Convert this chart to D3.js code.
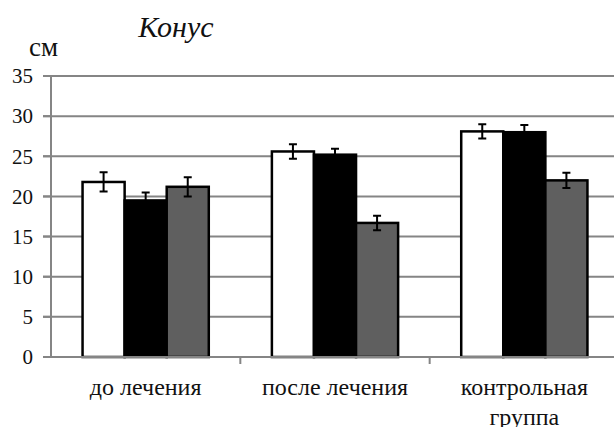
<!DOCTYPE html>
<html>
    <head>
        <script src="https://d3js.org/d3.v7.min.js"></script>
    </head>
    <body style="margin:0;padding:0;background:#ffffff">
        <svg id="fig" width="614" height="427">
            <text x="176" y="37" text-anchor="middle" font-family="serif" font-style="italic" font-size="30" fill="#111111">Конус</text>
            <text x="29" y="56" font-family="Times New Roman" font-size="27" fill="#111111">см</text>
        </svg>
        <script>

            /* DATA */
            const categories = ["до лечения", "после лечения", "контрольная группа"];
            const series = ["white", "black", "gray"];
            const whiteValues = [21.8, 25.6, 28.1];
            const blackValues = [19.5, 25.2, 28.0];
            const grayValues = [21.2, 16.7, 22.0];
            const whiteErrors = [1.2, 0.9, 0.9];
            const blackErrors = [1.0, 0.75, 0.9];
            const grayErrors = [1.2, 0.9, 0.95];
            const yTicks = [0, 5, 10, 15, 20, 25, 30, 35];

            const fills = {white: "#ffffff", black: "#000000", gray: "#5f5f5f"};

            const values = {white: whiteValues, black: blackValues, gray: grayValues};
            const errors = {white: whiteErrors, black: blackErrors, gray: grayErrors};

            const width = 614;
            const height = 427;

            const svg = d3.select("#fig");

            /* SCALES */
            // the plot runs a bit past the right edge of the picture
            const x0 = d3.scaleBand()
                .domain(categories)
                .range([51, 619])
                .padding(0);

            const x1 = d3.scaleBand()
                .domain(series)
                .range([0, x0.bandwidth()])
                .paddingInner(0)
                .paddingOuter(0.75);

            const yScale = d3.scaleLinear()
                .domain([0, 35])
                .range([357, 76]);

            /* GRIDLINES */
            svg.append("g")
                .selectAll("line")
                .data(yTicks.filter(d => d > 0))
                .enter()
                .append("line")
                    .attr("x1", 43)
                    .attr("x2", width)
                    .attr("y1", d => yScale(d))
                    .attr("y2", d => yScale(d))
                    .attr("stroke", "#858585")
                    .attr("stroke-width", 2);

            /* Y AXIS (drawn by hand so no sans-serif default is set) */
            svg.append("line")
                .attr("x1", 51)
                .attr("x2", 51)
                .attr("y1", yScale(0))
                .attr("y2", yScale(35))
                .attr("stroke", "#858585")
                .attr("stroke-width", 2);

            svg.append("g")
                .selectAll("line")
                .data(yTicks)
                .enter()
                .append("line")
                    .attr("x1", 43)
                    .attr("x2", 51)
                    .attr("y1", d => yScale(d))
                    .attr("y2", d => yScale(d))
                    .attr("stroke", "#858585")
                    .attr("stroke-width", 2);

            svg.append("g")
                .selectAll("text")
                .data(yTicks)
                .enter()
                .append("text")
                    .attr("x", 33)
                    .attr("y", d => yScale(d))
                    .attr("dy", "0.35em")
                    .attr("text-anchor", "end")
                    .attr("font-family", "Liberation Serif")
                    .attr("font-size", 21)
                    .attr("fill", "#111111")
                    .text(d => d);

            /* BARS */
            const groups = svg.append("g")
                .selectAll("g")
                .data(categories)
                .enter()
                .append("g")
                .attr("transform", d => `translate(${x0(d)},0)`);

            groups.selectAll("rect")
                .data((c, i) => series.map(s => ({s: s, v: values[s][i]})))
                .enter()
                .append("rect")
                    .attr("x", d => x1(d.s))
                    .attr("y", d => yScale(d.v))
                    .attr("width", x1.bandwidth())
                    .attr("height", d => yScale(0) - yScale(d.v))
                    .attr("fill", d => fills[d.s])
                    .attr("stroke", "#000000")
                    .attr("stroke-width", 2.5);

            /* ERROR BARS */
            const errData = (c, i) => series.map(s => ({s: s, v: values[s][i], e: errors[s][i]}));
            const cap = 4;

            groups.selectAll(".err")
                .data(errData)
                .enter()
                .append("path")
                    .attr("class", "err")
                    .attr("fill", "none")
                    .attr("stroke", "#000000")
                    .attr("stroke-width", 2)
                    .attr("d", d => {
                        const cx = x1(d.s) + x1.bandwidth() / 2;
                        const top = yScale(d.v + d.e), bot = yScale(d.v - d.e);
                        return `M${cx - cap},${top}H${cx + cap}M${cx},${top}V${bot}M${cx - cap},${bot}H${cx + cap}`;
                    });

            /* X AXIS */
            svg.append("line")
                .attr("x1", 43)
                .attr("x2", width)
                .attr("y1", yScale(0))
                .attr("y2", yScale(0))
                .attr("stroke", "#858585")
                .attr("stroke-width", 2);

            svg.append("g")
                .selectAll("line")
                .data(categories.slice(1))
                .enter()
                .append("line")
                    .attr("x1", d => x0(d))
                    .attr("x2", d => x0(d))
                    .attr("y1", yScale(0))
                    .attr("y2", yScale(0) + 7)
                    .attr("stroke", "#858585")
                    .attr("stroke-width", 2);

            /* CATEGORY LABELS */
            const labels = svg.append("g")
                .selectAll("text")
                .data(categories)
                .enter()
                .append("text")
                    .attr("text-anchor", "middle")
                    .attr("font-family", "Liberation Serif, serif")
                    .attr("font-size", 24)
                    .attr("fill", "#111111")
                    .attr("x", d => x0(d) + x0.bandwidth() / 2)
                    .attr("y", 395);

            labels.each(function(d) {
                const words = d === "контрольная группа" ? ["контрольная", "группа"] : [d];
                d3.select(this).selectAll("tspan")
                    .data(words)
                    .enter()
                    .append("tspan")
                    .attr("x", x0(d) + x0.bandwidth() / 2)
                    .attr("dy", (w, i) => i === 0 ? 0 : 30)
                    .text(w => w);
            });

        </script>
    </body>
</html>
